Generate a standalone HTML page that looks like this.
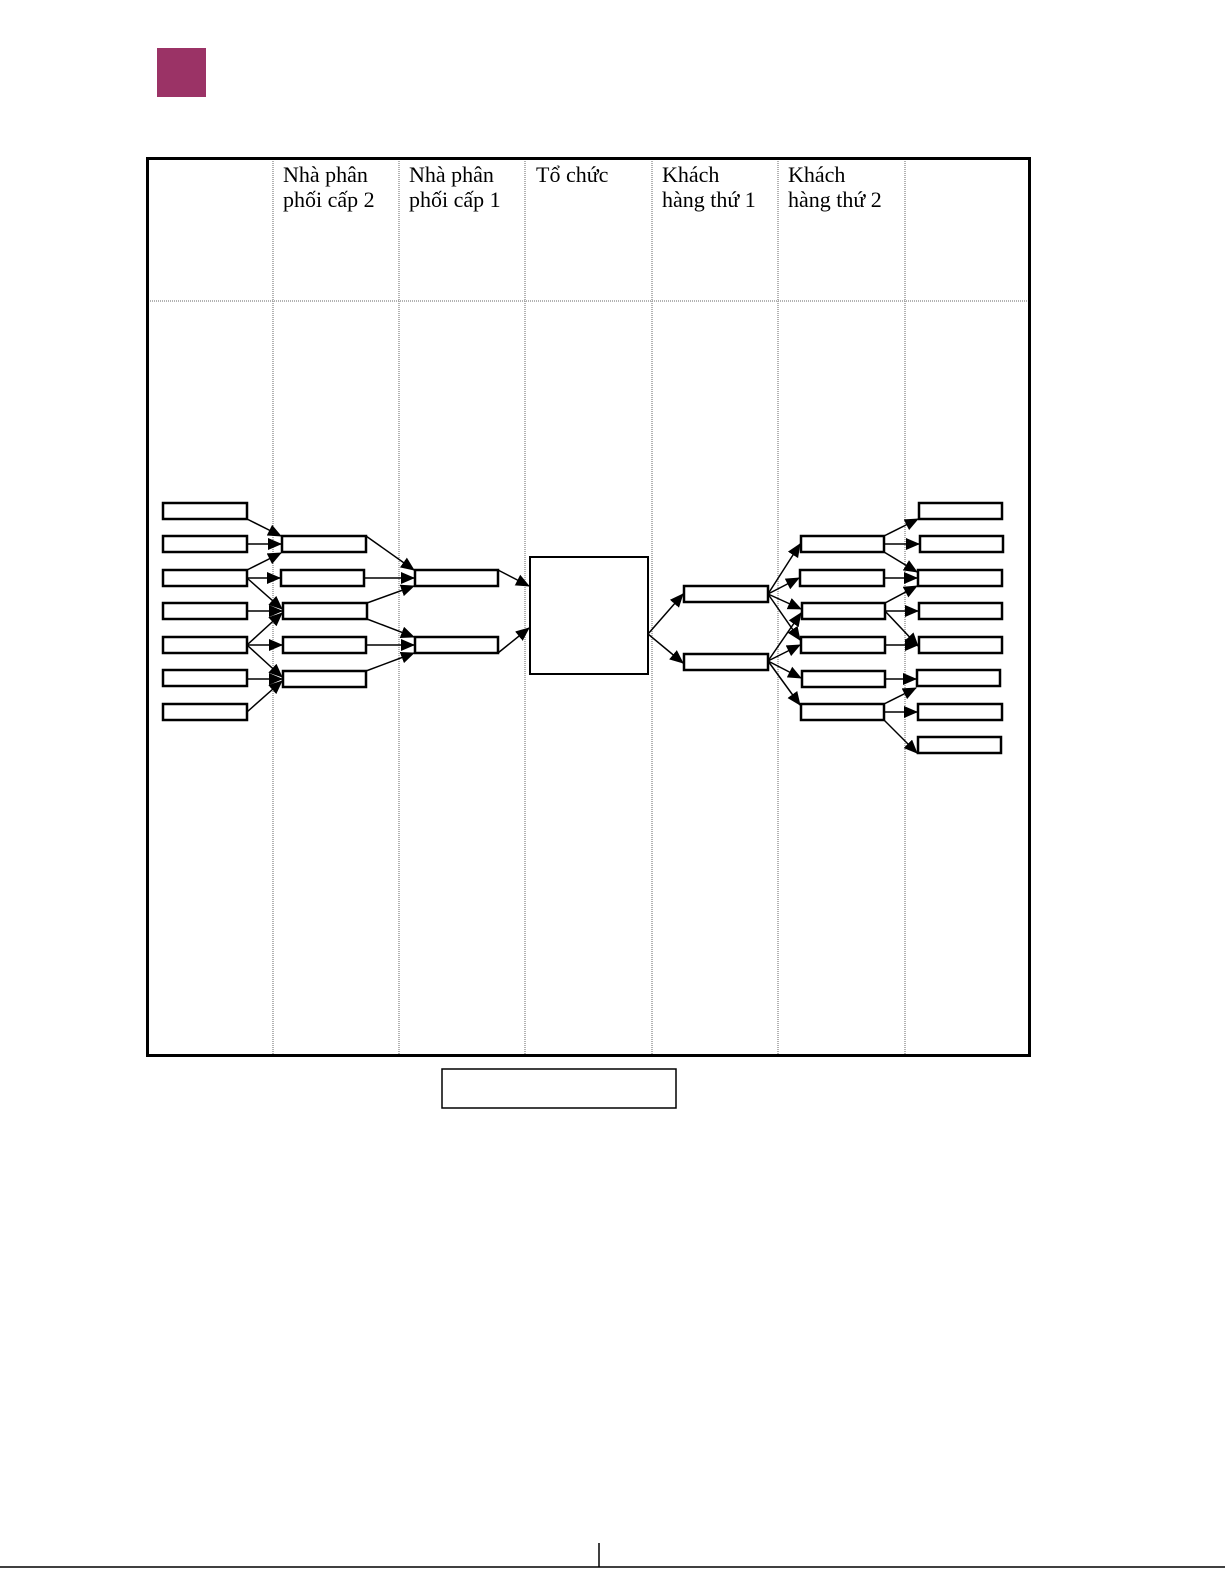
<!DOCTYPE html>
<html><head><meta charset="utf-8"><style>
html,body{margin:0;padding:0;background:#fff;overflow:hidden;width:1225px;height:1585px;}
svg{display:block;position:absolute;left:0;top:0;}
text{font-family:"Liberation Serif",serif;font-size:22px;fill:#000;}
</style></head><body>
<svg width="1225" height="1585" viewBox="0 0 1225 1585" xmlns="http://www.w3.org/2000/svg">
<defs><marker id="a" markerWidth="14" markerHeight="14" refX="13" refY="6" orient="auto" markerUnits="userSpaceOnUse"><path d="M0,0 L14,6 L0,12 z" fill="#000"/></marker></defs>
<rect x="157" y="48" width="49" height="49" fill="#9b3366"/>
<g stroke="#999" stroke-width="1.5" stroke-dasharray="1,1">
<line x1="273" y1="159" x2="273" y2="1055"/><line x1="399" y1="159" x2="399" y2="1055"/>
<line x1="525" y1="159" x2="525" y2="1055"/><line x1="652" y1="159" x2="652" y2="1055"/>
<line x1="778" y1="159" x2="778" y2="1055"/><line x1="905" y1="159" x2="905" y2="1055"/>
<line x1="148" y1="301" x2="1029" y2="301"/>
</g>
<rect x="147.5" y="158.5" width="882" height="897" fill="none" stroke="#000" stroke-width="3"/>
<text x="283" y="182">Nhà phân</text><text x="283" y="207">phối cấp 2</text>
<text x="409" y="182">Nhà phân</text><text x="409" y="207">phối cấp 1</text>
<text x="536" y="182">Tổ chức</text>
<text x="662" y="182">Khách</text><text x="662" y="207">hàng thứ 1</text>
<text x="788" y="182">Khách</text><text x="788" y="207">hàng thứ 2</text>
<g fill="#fff" stroke="#000" stroke-width="2.5">
<rect x="163" y="503" width="84" height="16"/><rect x="163" y="536" width="84" height="16"/>
<rect x="163" y="570" width="84" height="16"/><rect x="163" y="603" width="84" height="16"/>
<rect x="163" y="637" width="84" height="16"/><rect x="163" y="670" width="84" height="16"/>
<rect x="163" y="704" width="84" height="16"/>
<rect x="282" y="536" width="84" height="16"/><rect x="281" y="570" width="83" height="16"/>
<rect x="283" y="603" width="84" height="16"/><rect x="283" y="637" width="83" height="16"/>
<rect x="283" y="671" width="83" height="16"/>
<rect x="415" y="570" width="83" height="16"/><rect x="415" y="637" width="83" height="16"/>
<rect x="530" y="557" width="118" height="117" stroke-width="2"/>
<rect x="684" y="586" width="84" height="16"/><rect x="684" y="654" width="84" height="16"/>
<rect x="801" y="536" width="83" height="16"/><rect x="800" y="570" width="84" height="16"/>
<rect x="802" y="603" width="83" height="16"/><rect x="801" y="637" width="84" height="16"/>
<rect x="802" y="671" width="83" height="16"/><rect x="801" y="704" width="83" height="16"/>
<rect x="919" y="503" width="83" height="16"/><rect x="920" y="536" width="83" height="16"/>
<rect x="918" y="570" width="84" height="16"/><rect x="919" y="603" width="83" height="16"/>
<rect x="919" y="637" width="83" height="16"/><rect x="917" y="670" width="83" height="16"/>
<rect x="918" y="704" width="84" height="16"/><rect x="918" y="737" width="83" height="16"/>
<rect x="442" y="1069" width="234" height="39" stroke-width="1.5"/>
</g>
<g stroke="#000" stroke-width="1.5" marker-end="url(#a)">
<line x1="247" y1="519" x2="281" y2="536"/><line x1="247" y1="544" x2="281" y2="544"/>
<line x1="247" y1="570" x2="281" y2="553"/><line x1="247" y1="578" x2="280" y2="578"/>
<line x1="247" y1="578" x2="282" y2="609"/><line x1="247" y1="611" x2="282" y2="611"/>
<line x1="247" y1="645" x2="282" y2="613"/><line x1="247" y1="645" x2="282" y2="645"/>
<line x1="247" y1="645" x2="282" y2="677"/><line x1="247" y1="679" x2="282" y2="679"/>
<line x1="247" y1="712" x2="282" y2="681"/>
<line x1="366" y1="536" x2="414" y2="570"/><line x1="364" y1="578" x2="414" y2="578"/>
<line x1="367" y1="603" x2="414" y2="586"/><line x1="367" y1="619" x2="414" y2="637"/>
<line x1="366" y1="645" x2="414" y2="645"/><line x1="366" y1="671" x2="414" y2="653"/>
<line x1="498" y1="570" x2="529" y2="586"/><line x1="498" y1="653" x2="529" y2="628"/>
<line x1="648" y1="634" x2="683" y2="594"/><line x1="648" y1="634" x2="683" y2="663"/>
<line x1="768" y1="594" x2="800" y2="544"/><line x1="768" y1="594" x2="799" y2="578"/>
<line x1="768" y1="594" x2="801" y2="609"/><line x1="768" y1="594" x2="800" y2="640"/>
<line x1="768" y1="661" x2="801" y2="613"/><line x1="768" y1="661" x2="800" y2="645"/>
<line x1="768" y1="661" x2="801" y2="678"/><line x1="768" y1="661" x2="800" y2="705"/>
<line x1="884" y1="536" x2="918" y2="519"/><line x1="884" y1="544" x2="919" y2="544"/>
<line x1="884" y1="552" x2="917" y2="572"/><line x1="884" y1="578" x2="917" y2="578"/>
<line x1="885" y1="603" x2="917" y2="586"/><line x1="885" y1="611" x2="918" y2="611"/>
<line x1="885" y1="611" x2="918" y2="646"/><line x1="885" y1="645" x2="918" y2="645"/>
<line x1="885" y1="679" x2="916" y2="679"/>
<line x1="884" y1="704" x2="916" y2="688"/><line x1="884" y1="712" x2="917" y2="712"/>
<line x1="884" y1="720" x2="917" y2="753"/>
</g>
<line x1="0" y1="1567" x2="1225" y2="1567" stroke="#000" stroke-width="1.5"/>
<line x1="599" y1="1543" x2="599" y2="1567" stroke="#000" stroke-width="1.5"/>
</svg>
</body></html>
